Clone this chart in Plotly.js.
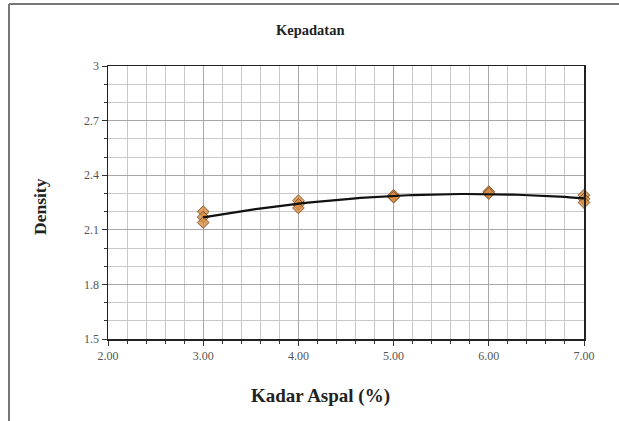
<!DOCTYPE html>
<html>
<head>
<meta charset="utf-8">
<script src="https://cdn.plot.ly/plotly-3.0.1.min.js"></script>
<style>
  html, body { margin: 0; padding: 0; background: #fff; overflow: hidden; }
  #chart { width: 619px; height: 421px; }
</style>
</head>
<body>
<div id="chart"></div>
<script>
// Asphalt content (%) for each specimen and its measured density
const kadarAspal = [3, 3, 3, 4, 4, 4, 5, 5, 5, 6, 6, 6, 7, 7, 7];
const density    = [2.20, 2.17, 2.14, 2.26, 2.24, 2.22, 2.29, 2.28, 2.28, 2.31, 2.30, 2.30, 2.29, 2.27, 2.25];

const xTicks = [2, 3, 4, 5, 6, 7];
const xTickLabels = ['2.00', '3.00', '4.00', '5.00', '6.00', '7.00'];
const yTicks = [1.5, 1.8, 2.1, 2.4, 2.7, 3];
const yTickLabels = ['1.5', '1.8', '2.1', '2.4', '2.7', '3'];

// Second-order polynomial trendline (least squares) through the specimens
function polyFit2(xs, ys) {
  let s = [0, 0, 0, 0, 0], t = [0, 0, 0];
  for (let i = 0; i < xs.length; i++) {
    let p = 1;
    for (let k = 0; k < 5; k++) { s[k] += p; if (k < 3) t[k] += p * ys[i]; p *= xs[i]; }
  }
  const A = [[s[0], s[1], s[2], t[0]], [s[1], s[2], s[3], t[1]], [s[2], s[3], s[4], t[2]]];
  for (let c = 0; c < 3; c++) {
    for (let r = c + 1; r < 3; r++) {
      const f = A[r][c] / A[c][c];
      for (let k = c; k < 4; k++) A[r][k] -= f * A[c][k];
    }
  }
  const b = [0, 0, 0];
  for (let r = 2; r >= 0; r--) {
    let v = A[r][3];
    for (let k = r + 1; k < 3; k++) v -= A[r][k] * b[k];
    b[r] = v / A[r][r];
  }
  return b;
}
const coef = polyFit2(kadarAspal, density);
const xMin = Math.min(...kadarAspal), xMax = Math.max(...kadarAspal);
const trendX = [], trendY = [];
for (let i = 0; i <= 80; i++) {
  const x = xMin + (xMax - xMin) * i / 80;
  trendX.push(x);
  trendY.push(coef[0] + coef[1] * x + coef[2] * x * x);
}

const serif = 'Liberation Serif';

const traces = [
  {
    x: kadarAspal, y: density, type: 'scatter', mode: 'markers', cliponaxis: false,
    marker: { symbol: 'diamond', size: 9, color: 'rgba(214,140,70,0.8)', line: { color: '#8a5a2a', width: 1 } },
    hoverinfo: 'x+y', showlegend: false
  },
  {
    x: trendX, y: trendY, type: 'scatter', mode: 'lines', cliponaxis: false,
    line: { color: '#111', width: 2.2 }, hoverinfo: 'skip', showlegend: false
  }
];

const margin = { l: 108, r: 35, t: 66, b: 82 };
const plotW = 619 - margin.l - margin.r;
const plotH = 421 - margin.t - margin.b;
// pixel position on the page -> paper fraction of the plot area
const px = v => (v - margin.l) / plotW;
const py = v => 1 - (v - margin.t) / plotH;

const layout = {
  width: 619, height: 421,
  margin: margin,
  paper_bgcolor: '#fff', plot_bgcolor: '#fff',
  font: { family: serif, color: '#444', size: 12 },
  xaxis: {
    range: [2, 7], tickvals: xTicks, ticktext: xTickLabels,
    showgrid: true, gridcolor: '#a8a8a8', gridwidth: 1,
    minor: { dtick: 0.2, showgrid: true, gridcolor: '#c8c8c8', gridwidth: 1, ticks: 'outside', ticklen: 3, tickcolor: '#333' },
    ticks: 'outside', ticklen: 5, tickcolor: '#333',
    showline: true, linecolor: '#222', linewidth: 1.5, mirror: true,
    zeroline: false, tickfont: { family: serif, size: 12, color: '#555' }
  },
  yaxis: {
    range: [1.5, 3], tickvals: yTicks, ticktext: yTickLabels,
    showgrid: true, gridcolor: '#a8a8a8', gridwidth: 1,
    minor: { dtick: 0.1, showgrid: true, gridcolor: '#c8c8c8', gridwidth: 1, ticks: 'outside', ticklen: 3, tickcolor: '#333' },
    ticks: 'outside', ticklen: 5, tickcolor: '#333',
    showline: true, linecolor: '#222', linewidth: 1.5, mirror: true,
    zeroline: false, tickfont: { family: serif, size: 12, color: '#555' }
  },
  annotations: [
    { text: '<b>Kepadatan</b>', xref: 'paper', yref: 'paper', x: px(310), y: py(30),
      xanchor: 'center', yanchor: 'middle', showarrow: false,
      font: { family: serif, size: 14.5, color: '#222', weight: 'bold' } },
    { text: '<b>Kadar Aspal (%)</b>', xref: 'paper', yref: 'paper', x: px(320), y: py(396),
      xanchor: 'center', yanchor: 'middle', showarrow: false,
      font: { family: serif, size: 19, color: '#222', weight: 'bold' } },
    { text: '<b>Density</b>', xref: 'paper', yref: 'paper', x: px(40), y: py(207),
      xanchor: 'center', yanchor: 'middle', showarrow: false, textangle: -90,
      font: { family: serif, size: 17.5, color: '#222', weight: 'bold' } }
  ],
  // chart frame: only its top and left edges fall inside the page
  shapes: [
    { type: 'line', xref: 'paper', yref: 'paper', x0: px(9), x1: px(619), y0: py(4), y1: py(4),
      line: { color: '#777', width: 2 }, layer: 'below' },
    { type: 'line', xref: 'paper', yref: 'paper', x0: px(9), x1: px(9), y0: py(4), y1: py(421),
      line: { color: '#777', width: 2 }, layer: 'below' }
  ]
};

Plotly.newPlot('chart', traces, layout, { displayModeBar: false, staticPlot: true });
</script>
</body>
</html>
